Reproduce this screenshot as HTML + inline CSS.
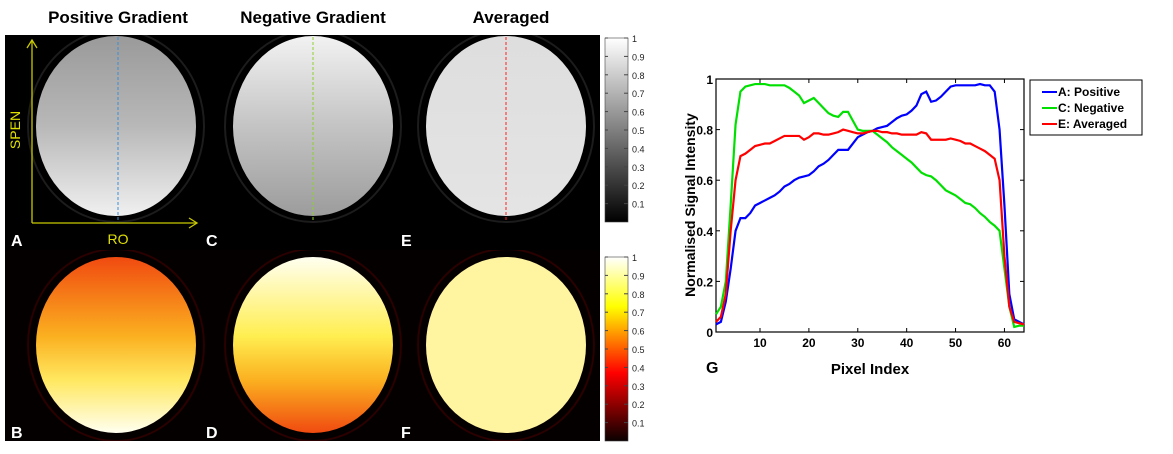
<!DOCTYPE html>
<html><head><meta charset="utf-8"><style>
body{margin:0;width:1173px;height:454px;background:#fff;overflow:hidden;font-family:"Liberation Sans",Arial,sans-serif}
svg{position:absolute;left:0;top:0}
</style></head><body>
<svg width="1173" height="454">
<defs>
<linearGradient id="gA" x1="0" y1="0" x2="0" y2="1"><stop offset="0" stop-color="#9a9a9a"/><stop offset="0.5" stop-color="#b8b8b8"/><stop offset="1" stop-color="#f0f0f0"/></linearGradient>
<linearGradient id="gC" x1="0" y1="0" x2="0" y2="1"><stop offset="0" stop-color="#f2f2f2"/><stop offset="0.5" stop-color="#c4c4c4"/><stop offset="1" stop-color="#9c9c9c"/></linearGradient>
<linearGradient id="gE" x1="0" y1="0" x2="0" y2="1"><stop offset="0" stop-color="#dedede"/><stop offset="1" stop-color="#e4e4e4"/></linearGradient>
<linearGradient id="gB" x1="0" y1="0" x2="0" y2="1"><stop offset="0" stop-color="#f04a10"/><stop offset="0.45" stop-color="#fbb020"/><stop offset="0.7" stop-color="#ffe860"/><stop offset="1" stop-color="#fffff0"/></linearGradient>
<linearGradient id="gD" x1="0" y1="0" x2="0" y2="1"><stop offset="0" stop-color="#fffff0"/><stop offset="0.45" stop-color="#ffee50"/><stop offset="0.7" stop-color="#fbb020"/><stop offset="1" stop-color="#f04a10"/></linearGradient>
<linearGradient id="gF" x1="0" y1="0" x2="0" y2="1"><stop offset="0" stop-color="#fff4a0"/><stop offset="1" stop-color="#fff4a0"/></linearGradient>
<linearGradient id="cbG" x1="0" y1="1" x2="0" y2="0"><stop offset="0" stop-color="#000"/><stop offset="1" stop-color="#fff"/></linearGradient>
<linearGradient id="cbH" x1="0" y1="1" x2="0" y2="0"><stop offset="0" stop-color="#0a0000"/><stop offset="0.37" stop-color="#ff0000"/><stop offset="0.73" stop-color="#ffff00"/><stop offset="1" stop-color="#ffffff"/></linearGradient>
<clipPath id="topClip"><rect x="5" y="35" width="595" height="215"/></clipPath>
<clipPath id="botClip"><rect x="5" y="250" width="595" height="191"/></clipPath>
</defs>
<rect x="5" y="35" width="595" height="215" fill="#000"/>
<rect x="5" y="250" width="595" height="191" fill="#050000"/>
<g clip-path="url(#topClip)">
<g><ellipse cx="116" cy="126" rx="88" ry="96" fill="none" stroke="#1c1c1c" stroke-width="2"/><ellipse cx="116" cy="126" rx="80" ry="90" fill="url(#gA)"/></g>
<g><ellipse cx="313" cy="126" rx="88" ry="96" fill="none" stroke="#1c1c1c" stroke-width="2"/><ellipse cx="313" cy="126" rx="80" ry="90" fill="url(#gC)"/></g>
<g><ellipse cx="506" cy="126" rx="88" ry="96" fill="none" stroke="#1c1c1c" stroke-width="2"/><ellipse cx="506" cy="126" rx="80" ry="90" fill="url(#gE)"/></g>
</g>
<g clip-path="url(#botClip)">
<g><ellipse cx="116" cy="345" rx="88" ry="96" fill="none" stroke="#2a0000" stroke-width="2"/><ellipse cx="116" cy="345" rx="80" ry="88" fill="url(#gB)"/></g>
<g><ellipse cx="313" cy="345" rx="88" ry="96" fill="none" stroke="#2a0000" stroke-width="2"/><ellipse cx="313" cy="345" rx="80" ry="88" fill="url(#gD)"/></g>
<g><ellipse cx="506" cy="345" rx="88" ry="96" fill="none" stroke="#2a0000" stroke-width="2"/><ellipse cx="506" cy="345" rx="80" ry="88" fill="url(#gF)"/></g>
</g>
<line x1="118" y1="37" x2="118" y2="222" stroke="#3a8fd8" stroke-dasharray="3,2"/>
<line x1="313" y1="37" x2="313" y2="222" stroke="#8fd030" stroke-dasharray="3,2"/>
<line x1="506" y1="37" x2="506" y2="222" stroke="#ff2020" stroke-dasharray="3,2"/>
<g stroke="#c8c800" fill="none" stroke-width="1.3">
<polyline points="32,223 32,40"/><polyline points="27,48 32,40 37,48"/>
<polyline points="32,223 197,223"/><polyline points="189,218 197,223 189,228"/></g>
<text x="20" y="130" transform="rotate(-90 20 130)" text-anchor="middle" fill="#e0e000" font-size="14">SPEN</text>
<text x="118" y="244" text-anchor="middle" fill="#e0e000" font-size="14">RO</text>
<g fill="#fff" font-weight="bold" font-size="16">
<text x="11" y="246">A</text><text x="206" y="246">C</text><text x="401" y="246">E</text>
<text x="11" y="438">B</text><text x="206" y="438">D</text><text x="401" y="438">F</text></g>
<g font-weight="bold" font-size="17" text-anchor="middle">
<text x="118" y="23">Positive Gradient</text><text x="313" y="23">Negative Gradient</text><text x="511" y="23">Averaged</text></g>
<rect x="605" y="38" width="23" height="184" fill="url(#cbG)" stroke="#444" stroke-width="0.6"/>
<rect x="605" y="257" width="23" height="184" fill="url(#cbH)" stroke="#444" stroke-width="0.6"/>
<g id="cbt" font-size="9" fill="#222"></g>
<g id="chart"></g>
</svg>
<script>
const pixelIdx=[];for(let i=1;i<=64;i++)pixelIdx.push(i);
const positive=[0.03,0.04,0.12,0.25,0.40,0.45,0.45,0.47,0.50,0.51,0.52,0.53,0.54,0.555,0.575,0.585,0.60,0.61,0.615,0.62,0.635,0.655,0.665,0.68,0.70,0.72,0.72,0.72,0.745,0.77,0.78,0.79,0.795,0.805,0.81,0.815,0.83,0.845,0.855,0.86,0.875,0.895,0.94,0.95,0.91,0.915,0.93,0.95,0.97,0.975,0.975,0.975,0.975,0.975,0.98,0.975,0.975,0.95,0.80,0.50,0.15,0.05,0.04,0.03];
const negative=[0.07,0.10,0.20,0.50,0.82,0.95,0.97,0.975,0.98,0.98,0.98,0.975,0.975,0.975,0.975,0.965,0.95,0.935,0.905,0.915,0.925,0.905,0.885,0.865,0.855,0.85,0.87,0.87,0.835,0.80,0.795,0.795,0.795,0.78,0.765,0.75,0.73,0.715,0.70,0.685,0.67,0.65,0.63,0.62,0.615,0.60,0.58,0.56,0.55,0.54,0.525,0.51,0.505,0.49,0.47,0.455,0.435,0.42,0.40,0.25,0.10,0.02,0.025,0.025];
const averaged=[0.04,0.06,0.15,0.40,0.60,0.695,0.705,0.72,0.735,0.74,0.745,0.745,0.755,0.765,0.775,0.775,0.775,0.775,0.76,0.77,0.785,0.785,0.78,0.78,0.785,0.79,0.80,0.795,0.79,0.785,0.785,0.79,0.795,0.795,0.79,0.79,0.785,0.785,0.78,0.78,0.78,0.78,0.79,0.785,0.76,0.76,0.76,0.76,0.765,0.76,0.755,0.745,0.745,0.735,0.725,0.715,0.70,0.685,0.60,0.30,0.10,0.04,0.035,0.03];
const xTicks=[10,20,30,40,50,60];
const yTicks=[0,0.2,0.4,0.6,0.8,1];
const yLabels=["0","0.2","0.4","0.6","0.8","1"];
const cbTicks=[0.1,0.2,0.3,0.4,0.5,0.6,0.7,0.8,0.9,1];
const NS="http://www.w3.org/2000/svg";
const L=716,R=1024,T=79,B=332;
const xs=v=>L+(v-1)/(64-1)*(R-L);
const ys=v=>B-v*(B-T);
function mk(tag,attrs,parent,txt){const e=document.createElementNS(NS,tag);for(const k in attrs)e.setAttribute(k,attrs[k]);if(txt!==undefined)e.textContent=txt;parent.appendChild(e);return e;}
const g=document.getElementById('chart');
const box=mk('rect',{x:L,y:T,width:R-L,height:B-T,fill:'none',stroke:'#000','stroke-width':1.2},g);


xTicks.forEach(t=>{const x=xs(t);
 mk('line',{x1:x,y1:B,x2:x,y2:B-4,stroke:'#000'},g);mk('line',{x1:x,y1:T,x2:x,y2:T+4,stroke:'#000'},g);
 const tx=mk('text',{x:x,y:B+15,'text-anchor':'middle','font-size':12,'font-weight':'bold'},g,String(t));
 
 });
yTicks.forEach((t,i)=>{const y=ys(t);
 mk('line',{x1:L,y1:y,x2:L+4,y2:y,stroke:'#000'},g);mk('line',{x1:R,y1:y,x2:R-4,y2:y,stroke:'#000'},g);
 const tx=mk('text',{x:L-3,y:y+5,'text-anchor':'end','font-size':12,'font-weight':'bold'},g,yLabels[i]);
 
 });
const series=[[positive,'#0000ff','line-positive'],[negative,'#00e000','line-negative'],[averaged,'#ff0000','line-averaged']];
series.forEach(([d,c,n])=>{const p=mk('polyline',{points:d.map((v,i)=>xs(pixelIdx[i])+','+ys(v)).join(' '),fill:'none',stroke:c,'stroke-width':2.2},g);
 
 });
const xt=mk('text',{x:870,y:374,'text-anchor':'middle','font-size':15,'font-weight':'bold'},g,'Pixel Index');


const yt=mk('text',{x:695,y:205,'text-anchor':'middle','font-size':14,'font-weight':'bold',transform:'rotate(-90 695 205)'},g,'Normalised Signal Intensity');


const gl=mk('text',{x:706,y:373,'font-size':16,'font-weight':'bold'},g,'G');


const lg=mk('g',{},g);


mk('rect',{x:1030,y:80,width:112,height:55,fill:'#fff',stroke:'#000'},lg);
[['A: Positive','#0000ff'],['C: Negative','#00e000'],['E: Averaged','#ff0000']].forEach(([t,c],i)=>{const y=92+i*16;
 mk('line',{x1:1042,y1:y,x2:1057,y2:y,stroke:c,'stroke-width':2},lg);
 const e=mk('text',{x:1058,y:y+4,'font-size':12,'font-weight':'bold'},lg,t);
 
 });
const cb=document.getElementById('cbt');
[[38,222],[257,441]].forEach(([t0,b0])=>{cbTicks.forEach(v=>{const y=b0-v*(b0-t0);
 mk('line',{x1:624,y1:y,x2:628,y2:y,stroke:'#444'},cb);mk('line',{x1:605,y1:y,x2:608,y2:y,stroke:'#444'},cb);
 const e=mk('text',{x:632,y:y+4},cb,v===1?'1':String(v));
 
 });});
</script>
</body></html>
